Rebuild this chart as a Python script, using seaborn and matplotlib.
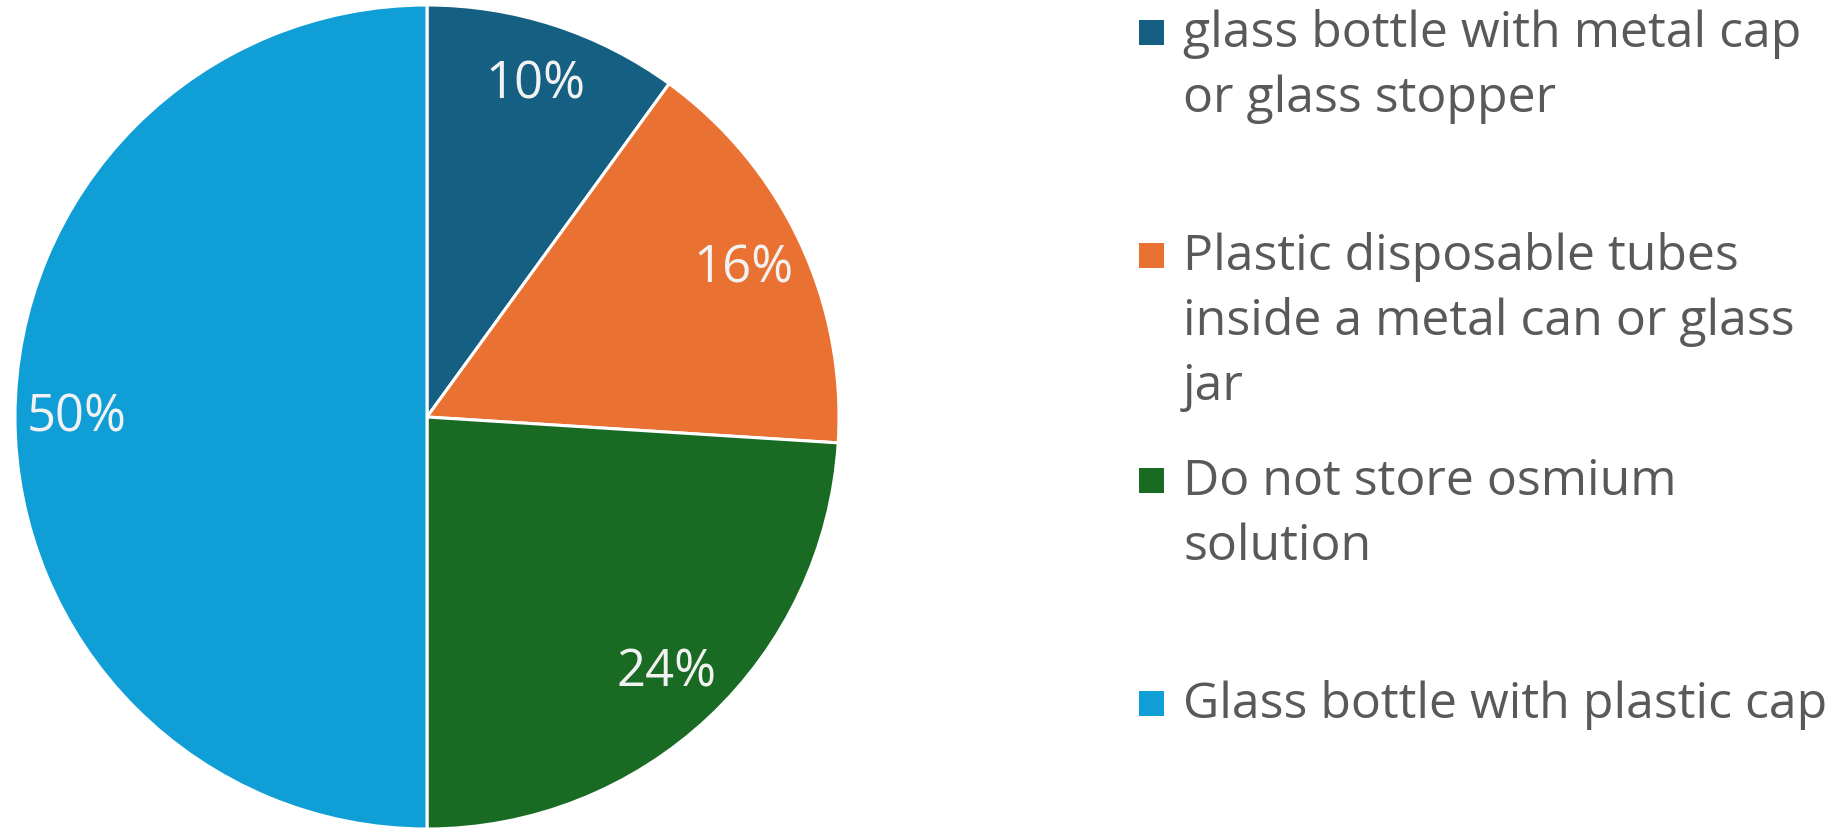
import matplotlib
matplotlib.use("Agg")
import matplotlib.pyplot as plt
from matplotlib.patches import Rectangle
import seaborn as sns

# Storage of osmium solution: share of responses
categories = [
    "glass bottle with metal cap\nor glass stopper",
    "Plastic disposable tubes\ninside a metal can or glass\njar",
    "Do not store osmium\nsolution",
    "Glass bottle with plastic cap",
]
shares = [10, 16, 24, 50]
colors = ["#156082", "#E97132", "#196B24", "#0F9ED5"]

sns.set_theme(style="white")
plt.rcParams["font.family"] = ["Open Sans", "Liberation Sans", "DejaVu Sans"]

W, H, DPI = 1845, 829, 100
fig = plt.figure(figsize=(W / DPI, H / DPI), dpi=DPI)

# Pie axes: centre (427, 418) px, radius 412 px
cx, cy, r = 427, 418, 412
ax = fig.add_axes([(cx - r) / W, (H - cy - r) / H, 2 * r / W, 2 * r / H])
wedges, _, autotexts = ax.pie(
    shares,
    colors=sns.color_palette(colors),
    startangle=90,
    counterclock=False,
    autopct=lambda p: f"{p:.0f}%",
    pctdistance=0.85,
    wedgeprops=dict(edgecolor="white", linewidth=2.2),
    textprops=dict(color="#F2F2F2", fontsize=36.5),
)
ax.set_xlim(-1, 1)
ax.set_ylim(-1, 1)
ax.set_aspect("equal")
ax.axis("off")

# Legend: evenly spaced entries, each text line placed on its own baseline (px)
first_baselines = [47, 270, 495, 718]
line_step = 65
for label, col, base in zip(categories, colors, first_baselines):
    fig.patches.append(Rectangle(
        (1139 / W, (H - base + 1) / H), 25 / W, 25 / H,
        transform=fig.transFigure, facecolor=col, edgecolor="none"))
    for i, line in enumerate(label.split("\n")):
        y = base + i * line_step
        fig.text(1183 / W, (H - y) / H, line,
                 fontsize=36, color="#595959", ha="left", va="baseline")

fig.savefig("out.png", dpi=DPI)
